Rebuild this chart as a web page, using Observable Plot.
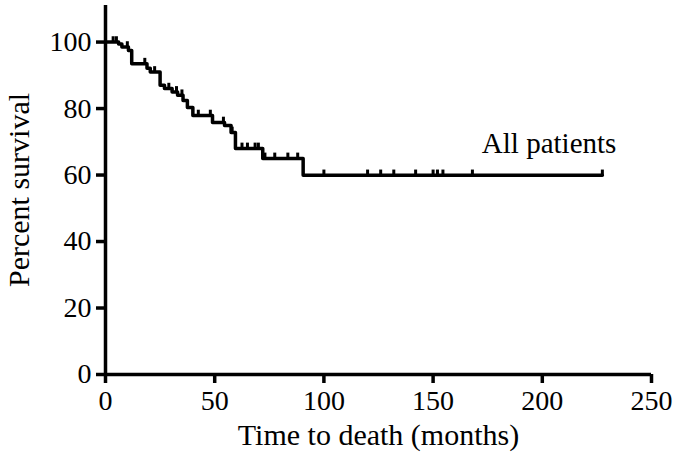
<!DOCTYPE html>
<html>
<head>
<meta charset="utf-8">
<script src="https://cdn.jsdelivr.net/npm/d3@7"></script>
<script src="https://cdn.jsdelivr.net/npm/@observablehq/plot@0.6"></script>
<style>
  html, body { margin: 0; padding: 0; background: #fff; }
</style>
</head>
<body>
<div id="chart"></div>
<script>
// Kaplan-Meier step curve (time in months, percent survival)
const stepTimes = [0, 6, 7.5, 10.5, 12, 19, 20.5, 25, 27, 30.5, 33, 35.5, 37.5, 40, 49, 54.5, 57.5, 59.5, 72, 90.5, 227.5];
const stepSurvival = [100, 99.4, 98.5, 97.5, 93.5, 92.1, 91, 87, 86, 85, 84, 82.4, 80.3, 77.9, 75.8, 74.9, 72.8, 68, 65, 59.9, 59.9];
// Censored observations (times)
const censorTimes = [3.5, 5, 10, 18, 22.5, 29, 32.5, 35, 42.5, 48, 54, 58, 62.5, 65, 68.5, 70, 73, 77.5, 83.5, 88, 100, 120, 126, 132, 142, 150, 152, 154.5, 168, 227.5];
const xTicks = [0, 50, 100, 150, 200, 250];
const yTicks = [0, 20, 40, 60, 80, 100];
const seriesLabel = "All patients";
const xLabel = "Time to death (months)";
const yLabel = "Percent survival";

const curve = stepTimes.map((t, i) => ({t, s: stepSurvival[i]}));
const survivalAt = t => {
  const i = d3.bisectRight(stepTimes, t) - 1;
  return stepSurvival[Math.max(0, i)];
};
const censors = censorTimes.map(t => ({t, s: survivalAt(t), top: survivalAt(t) + 1.6}));
const last = curve[curve.length - 1];

const chart = Plot.plot({
  width: 680,
  height: 460,
  marginLeft: 105,
  marginRight: 29,
  marginTop: 5,
  marginBottom: 86,
  style: {fontFamily: "'Liberation Serif', 'Times New Roman', serif", fontSize: "28px", color: "#000", background: "#fff"},
  x: {domain: [0, 250]},
  y: {domain: [0, 111]},
  marks: [
    Plot.axisX({ticks: xTicks, tickSize: 9, tickPadding: 7, strokeWidth: 3.5, label: null, fontSize: 28}),
    Plot.axisY({ticks: yTicks, tickSize: 9, tickPadding: 5, strokeWidth: 3.5, label: null, fontSize: 28}),
    Plot.ruleX([0], {strokeWidth: 3.5}),
    Plot.ruleY([0], {strokeWidth: 3.5}),
    Plot.line(curve, {x: "t", y: "s", curve: "step-after", strokeWidth: 3.5, stroke: "#000"}),
    Plot.ruleX(censors, {x: "t", y1: "s", y2: "top", strokeWidth: 3, stroke: "#000"}),
    Plot.text([last], {x: "t", y: "s", text: () => seriesLabel, textAnchor: "end", dx: 14, dy: -32, fontSize: 29}),
    Plot.text([xLabel], {frameAnchor: "bottom", text: d => d, dy: 70, fontSize: 30}),
    Plot.text([yLabel], {frameAnchor: "left", text: d => d, rotate: -90, textAnchor: "middle", dx: -86, fontSize: 30})
  ]
});
document.getElementById("chart").appendChild(chart);
</script>
</body>
</html>
